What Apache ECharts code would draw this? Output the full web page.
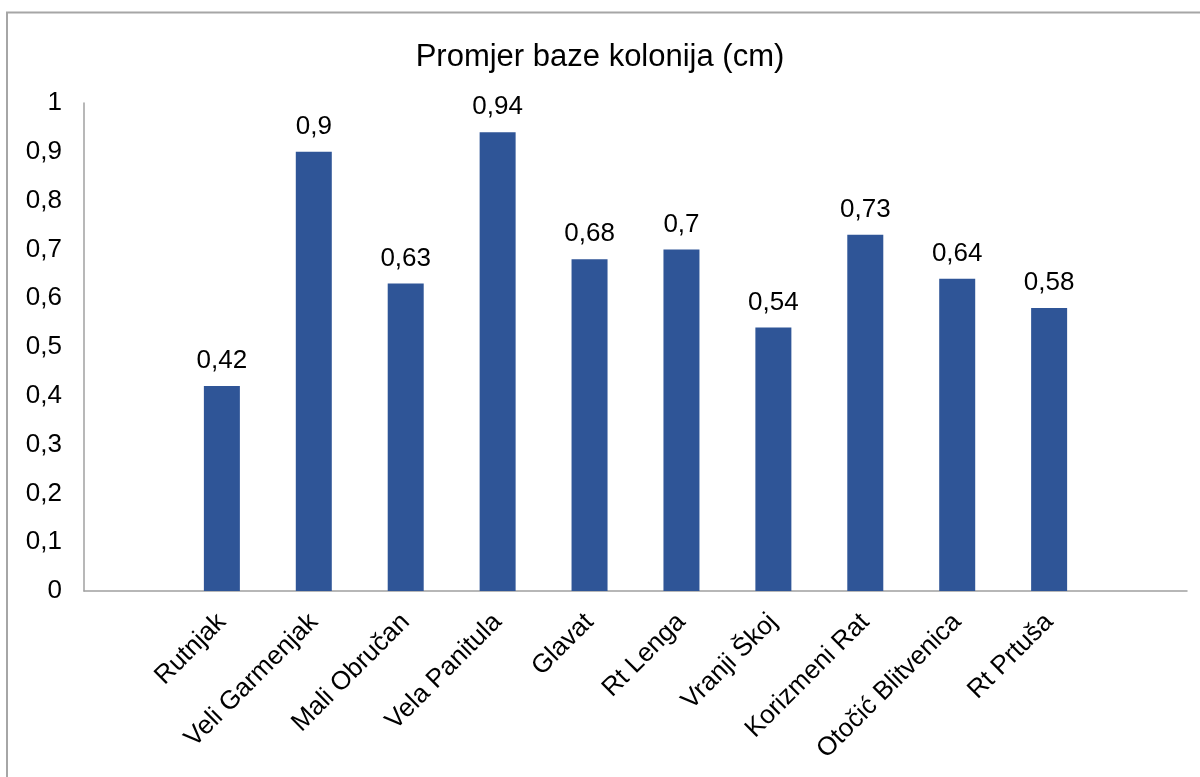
<html>

<head>
  <script src="https://cdn.jsdelivr.net/npm/echarts@6/dist/echarts.min.js"></script>
</head>

<body style="margin:0">
  <div id="main" style="width: 1200px;height:777px;"></div>
  <script>
    // islands (an empty slot sits on each side of the bars in the original)
    var islands = ['Rutnjak', 'Veli Garmenjak', 'Mali Obručan', 'Vela Panitula', 'Glavat',
      'Rt Lenga', 'Vranji Škoj', 'Korizmeni Rat', 'Otočić Blitvenica', 'Rt Prtuša'];
    var diameter = [0.42, 0.9, 0.63, 0.94, 0.68, 0.7, 0.54, 0.73, 0.64, 0.58];

    var cats = [''].concat(islands).concat(['']);
    var vals = [null].concat(diameter).concat([null]);
    var comma = function (v) { return String(v).replace('.', ','); };

    var myChart = echarts.init(document.getElementById('main'));
    var font = '"Liberation Sans", Arial, sans-serif';

    option = {
      animation: false,
      title: {
        text: 'Promjer baze kolonija (cm)',
        left: 'center',
        top: 37,
        textStyle: { fontFamily: font, fontSize: 31, fontWeight: 'normal', color: '#000' }
      },
      graphic: [{
        type: 'rect',
        shape: { x: 7, y: 12.5, width: 1220, height: 800 },
        style: { fill: null, stroke: '#a6a6a6', lineWidth: 2 }
      }],
      grid: { left: 84, right: 13, top: 103, bottom: 186 },
      xAxis: {
        type: 'category',
        data: cats,
        axisTick: { show: false },
        axisLine: { lineStyle: { color: '#a0a0a0', width: 1.5 } },
        axisLabel: {
          interval: 0,
          rotate: 45,
          margin: 27,
          fontFamily: font,
          fontSize: 26,
          color: '#000'
        }
      },
      yAxis: {
        type: 'value',
        min: 0,
        max: 1,
        interval: 0.1,
        splitLine: { show: false },
        axisTick: { show: false },
        axisLine: { show: true, lineStyle: { color: '#a0a0a0', width: 1.5 } },
        axisLabel: {
          margin: 22,
          fontFamily: font,
          fontSize: 26,
          color: '#000',
          formatter: function (v) { return comma(Math.round(v * 10) / 10); }
        }
      },
      series: [{
        type: 'bar',
        data: vals,
        barWidth: 36,
        itemStyle: { color: '#2f5597' },
        label: {
          show: true,
          position: 'top',
          distance: 12,
          fontFamily: font,
          fontSize: 26,
          color: '#000',
          formatter: function (p) { return comma(p.value); }
        }
      }]
    };

    myChart.setOption(option);
  </script>
</body>

</html>
